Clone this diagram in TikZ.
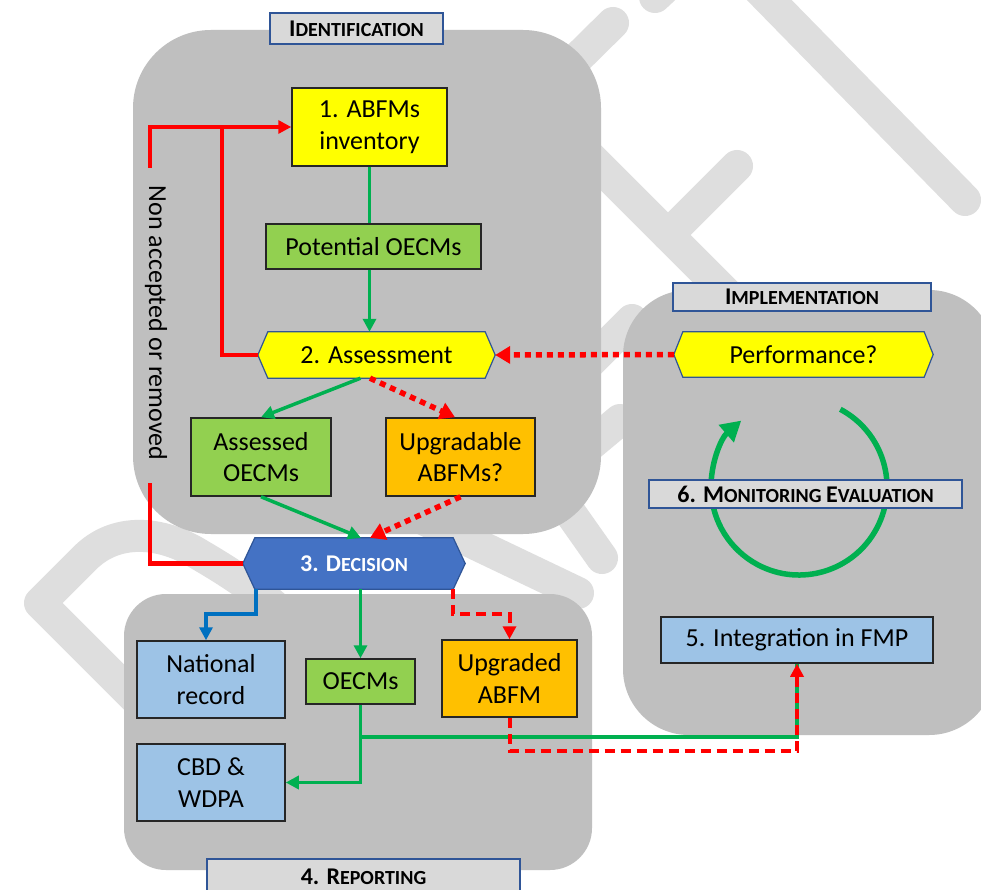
\documentclass[tikz,border=0pt]{standalone}
\usepackage{fontspec}
\setmainfont{Carlito}
\usetikzlibrary{arrows.meta,calc}
\pgfdeclarelayer{back}
\pgfdeclarelayer{hexl}
\pgfsetlayers{back,hexl,main}
\definecolor{wm}{HTML}{DEDEDE}
\definecolor{cont}{HTML}{BFBFBF}
\definecolor{ttl}{HTML}{D9D9D9}
\definecolor{ttlb}{HTML}{2F5597}
\definecolor{yel}{HTML}{FFFF00}
\definecolor{grb}{HTML}{92D050}
\definecolor{orb}{HTML}{FFC000}
\definecolor{lbb}{HTML}{9DC3E6}
\definecolor{decb}{HTML}{4472C4}
\definecolor{gln}{HTML}{00B050}
\definecolor{bln}{HTML}{0070C0}
\definecolor{rln}{HTML}{FF0000}
\definecolor{bord}{HTML}{262626}
\newcommand\bigsc[1]{{\fontsize{24}{28}\selectfont\bfseries #1}}
\newcommand\smsc[1]{{\fontsize{20}{24}\selectfont\bfseries #1}}
\newcommand\hexdraw[3]{\draw[#2] (#1.west) -- ([xshift=#3]#1.north west) -- ([xshift=-#3]#1.north east) -- (#1.east) -- ([xshift=-#3]#1.south east) -- ([xshift=#3]#1.south west) -- cycle;}
\tikzset{
  body/.style={font=\fontsize{26}{31.7}\selectfont, align=center, inner sep=0pt},
  boxn/.style={body, draw=bord, line width=1.5pt},
  ttlbox/.style={draw=ttlb, fill=ttl, line width=1.5pt, inner sep=0pt},
  hexfill/.style={draw=ttlb, line width=1.2pt},
  wmst/.style={draw=wm, line width=32pt, line cap=round, line join=round},
  gline/.style={draw=gln, line width=3.5pt},
  garrow/.style={gline, -{Triangle[length=13pt,width=13pt]}},
  bline/.style={draw=bln, line width=3.5pt, -{Triangle[length=13pt,width=13pt]}},
  redl/.style={draw=rln, line width=4.5pt},
  rdot/.style={draw=rln, line width=5.5pt, dash pattern=on 6pt off 5pt, -{Triangle[length=15pt,width=17pt]}},
  rdash/.style={draw=rln, line width=4pt, dash pattern=on 10pt off 6pt},
}
\begin{document}
\begin{tikzpicture}[x=1pt,y=-1pt]
\useasboundingbox (0,0) rectangle (981,890);
\clip (0,0) rectangle (981,890);
\begin{pgfonlayer}{back}
  \fill[white] (0,0) rectangle (981,890);
  % watermark
  \draw[wmst] (735,-35) -- (965,200);
  \draw[wmst] (700,-45) -- (655,-3);
  \draw[wmst] (613,23) -- (534,101) -- (800,367);
  \draw[wmst] (668,235) -- (737,166);
  \draw[wmst] (560,392) -- (632,320);
  \draw[wmst] (560,470) -- (620,420);
  \draw[wmst] (540,470) -- (602,558);
  \draw[wmst] (400,508) -- (578,593);
  \draw[wmst] (260,823) -- (40,603) -- (85,558) .. controls (115,528) and (160,530) .. (200,555) .. controls (260,590) and (330,640) .. (330,700);
  % containers
  \fill[cont, rounded corners=78pt] (133,30) rectangle (601,534);
  \fill[cont, rounded corners=66pt] (623,290) rectangle (995,735);
  \fill[cont, rounded corners=42pt] (124,594) rectangle (592,870);
\end{pgfonlayer}

% titles
\node[ttlbox, minimum width=173pt, minimum height=31pt] (idt) at (356.5,28.5) {\bigsc{I}\smsc{DENTIFICATION}};
\node[ttlbox, minimum width=258pt, minimum height=28pt] (imt) at (802,297) {\bigsc{I}\smsc{MPLEMENTATION}};
\node[ttlbox, minimum width=313pt, minimum height=36pt] (rpt) at (363.5,877) {\bigsc{4. R}\smsc{EPORTING}};

% identification nodes
\node[boxn, fill=yel, minimum width=155pt, minimum height=78pt] (inv) at (369.5,127) {1. ABFMs\\inventory};
\node[boxn, fill=grb, minimum width=215pt, minimum height=45pt] (pot) at (373.5,246.5) {Potential OECMs};
\node[body, minimum width=237pt, minimum height=46pt] (assess) at (376.5,355) {2. Assessment};
\node[boxn, fill=grb, minimum width=140pt, minimum height=78pt] (assessed) at (261,457) {Assessed\\OECMs};
\node[boxn, fill=orb, minimum width=149pt, minimum height=78pt] (upg) at (460.5,457) {Upgradable\\ABFMs?};
\node[body, minimum width=222pt, minimum height=51pt, text=white] (dec) at (354,563.5) {\bigsc{3. D}\smsc{ECISION}};

% implementation nodes
\node[body, minimum width=259pt, minimum height=45pt] (perf) at (803.5,354.5) {Performance?};
\draw[gln, line width=5.5pt, -{Triangle[length=20pt,width=22pt]}] ($(799,487)+(-62:88)$) arc[start angle=-62, end angle=229, radius=88];
\node[ttlbox, minimum width=313pt, minimum height=28pt] (mon) at (805.5,494) {\bigsc{6. M}\smsc{ONITORING }\bigsc{E}\smsc{VALUATION}};
\node[boxn, fill=lbb, minimum width=272pt, minimum height=46pt] (integ) at (797,640) {5. Integration in FMP};

% reporting nodes
\node[boxn, fill=lbb, minimum width=148pt, minimum height=77pt] (natrec) at (211,679.5) {National\\record};
\node[boxn, fill=lbb, minimum width=148pt, minimum height=77pt] (cbd) at (211,782.5) {CBD \&\\WDPA};
\node[boxn, fill=grb, minimum width=109pt, minimum height=45pt] (oecm) at (360.5,681.5) {OECMs};
\node[boxn, fill=orb, minimum width=135pt, minimum height=77pt] (upgd) at (509.5,678.5) {Upgraded\\ABFM};

\begin{pgfonlayer}{hexl}
  \hexdraw{assess}{hexfill, fill=yel}{10pt}
  \hexdraw{perf}{hexfill, fill=yel}{9pt}
  \hexdraw{dec}{hexfill, fill=decb}{12pt}
\end{pgfonlayer}

% connectors
\coordinate (nl1) at (150,168);
\coordinate (rj) at (222,127);
\coordinate (nl2) at (150,483);
\draw[gline] (inv.south) -- (inv.south |- pot.north);
\draw[garrow] (inv.south |- pot.south) -- (inv.south |- assess.north);
\draw[redl, -{Triangle[length=13pt,width=13pt]}] (nl1) |- (inv.west);
\draw[redl] (assess.west) -| (rj);
\draw[redl] (nl2) |- (dec.west);
\node[body, rotate=-90] (nal) at (156,323) {Non accepted or removed};

\draw[garrow] ([xshift=-16pt]assess.south) -- (assessed.north);
\draw[rdot] ([xshift=-6.5pt]assess.south) -- ([xshift=-5.5pt]upg.north);
\draw[garrow] (assessed.south) -- ([xshift=7pt]dec.north);
\draw[rdot] (upg.south) -- ([xshift=16pt]dec.north);
\draw[rdot] (perf.west) -- (assess.east);

\draw[bline] ([xshift=-98pt]dec.south) -- ++(0,25) -| ([xshift=-5pt]natrec.north);
\draw[garrow] (oecm.north |- dec.south) -- (oecm.north);
\draw[rdash, -{Triangle[length=13pt,width=13pt]}] ([xshift=99pt]dec.south) -- ++(0,25) -| (upgd.north);
\draw[garrow] (oecm.south) |- (cbd.east);
\coordinate (gb) at (oecm.south |- 0,737);
\draw[gline] (gb) -| (integ.south);
\draw[rdash, -{Triangle[length=13pt,width=13pt]}] (upgd.south) -- ++(0,33) -| (integ.south);
\end{tikzpicture}
\end{document}
